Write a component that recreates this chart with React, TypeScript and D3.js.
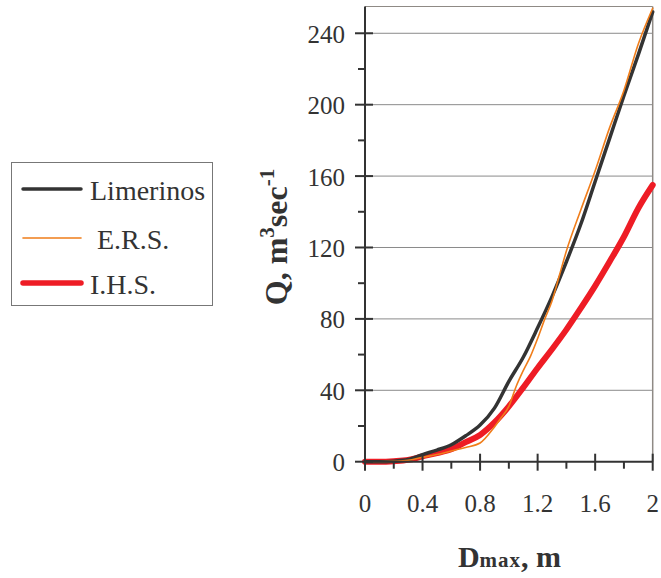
import React from "react";
import * as d3 from "d3";

// Maximum depth (m) at which discharge is evaluated
const depths = [0, 0.1, 0.2, 0.3, 0.4, 0.5, 0.6, 0.7, 0.8, 0.9, 1.0, 1.1, 1.2, 1.3, 1.4, 1.5, 1.6, 1.7, 1.8, 1.9, 2.0];

// Discharge Q (m3/s) per method
const limerinos = [0, 0, 0.3, 1.2, 4, 6.5, 9.5, 14.5, 20.5, 30, 45, 58.5, 75, 92.5, 112, 133, 157, 181, 205, 228, 252];
const ersDepths = [0, 0.1, 0.2, 0.3, 0.4, 0.5, 0.6, 0.7, 0.8, 0.9, 0.95, 1.0, 1.05, 1.1, 1.15, 1.2, 1.25, 1.3, 1.35, 1.4, 1.5, 1.6, 1.7, 1.8, 1.9, 2.0];
const ers = [0, 0, 0.2, 0.8, 2.5, 4, 6, 8, 10.5, 19.5, 25, 31, 42, 51, 59, 69, 80, 90, 104, 118, 141, 163, 187, 208, 234, 254];
const ihs = [0, 0, 0.3, 1, 3, 4.8, 7, 11, 15, 22, 31, 41.5, 52.5, 63, 74, 86, 98.5, 112, 126, 142, 155];

const xTicks = [0, 0.4, 0.8, 1.2, 1.6, 2];
const xMinorTicks = [0.2, 0.6, 1.0, 1.4, 1.8];
const yTicks = [0, 40, 80, 120, 160, 200, 240];
const yMinorTicks = [20, 60, 100, 140, 180, 220];

const legendNames = ["Limerinos", " E.R.S.", "I.H.S."];
const colors = ["#333333", "#f07d1a", "#ee1c25"];
const widths = [3.5, 1.6, 6];

const W = 661;
const H = 578;

export default function App() {
  const x = d3.scaleLinear().domain([0, 2]).range([365, 652.7]);
  const y = d3.scaleLinear().domain([0, 255]).range([461.7, 6.5]);

  const line = d3
    .line<[number, number]>()
    .x((d) => x(d[0]))
    .y((d) => y(d[1]))
    .curve(d3.curveMonotoneX);

  const series: [number, number][][] = [
    depths.map((d, i) => [d, limerinos[i]]),
    ersDepths.map((d, i) => [d, ers[i]]),
    depths.map((d, i) => [d, ihs[i]]),
  ];

  const font = "'Liberation Serif', 'Times New Roman', serif";
  const x0 = x(0);
  const x1 = x(2);
  const y0 = y(0);
  const yTop = y(255);

  return (
    <svg
      width={W}
      height={H}
      style={{ position: "absolute", left: 0, top: 0, background: "#fff" }}
      fontFamily={font}
    >
      {/* gridlines */}
      {yTicks.filter((t) => t > 0).map((t) => (
        <line key={"g" + t} x1={x0} x2={x1} y1={y(t)} y2={y(t)} stroke="#8a8a8a" strokeWidth={1} />
      ))}
      {/* frame: top and right */}
      <line x1={x0} x2={x1} y1={yTop} y2={yTop} stroke="#8f8a85" strokeWidth={1.2} />
      <line x1={x1} x2={x1} y1={yTop} y2={y0} stroke="#8f8a85" strokeWidth={1.5} />

      {/* series */}
      {[2, 0, 1].map((i) => (
        <path
          key={"s" + i}
          d={line(series[i]) || ""}
          fill="none"
          stroke={colors[i]}
          strokeWidth={widths[i]}
          strokeLinejoin="round"
          strokeLinecap="round"
        />
      ))}

      {/* axes */}
      <line x1={x0} x2={x0} y1={yTop} y2={y0} stroke="#333" strokeWidth={2} />
      <line x1={x0} x2={x1} y1={y0} y2={y0} stroke="#333" strokeWidth={2} />
      {yTicks.map((t) => (
        <line key={"yt" + t} x1={x0 - 10} x2={x0 + 8} y1={y(t)} y2={y(t)} stroke="#333" strokeWidth={2} />
      ))}
      {yMinorTicks.map((t) => (
        <line key={"ym" + t} x1={x0 - 7} x2={x0} y1={y(t)} y2={y(t)} stroke="#333" strokeWidth={2} />
      ))}
      {xTicks.map((t) => (
        <line key={"xt" + t} x1={x(t)} x2={x(t)} y1={y0 - 8} y2={y0 + 9} stroke="#333" strokeWidth={2} />
      ))}
      {xMinorTicks.map((t) => (
        <line key={"xm" + t} x1={x(t)} x2={x(t)} y1={y0} y2={y0 + 7} stroke="#333" strokeWidth={2} />
      ))}

      {/* tick labels */}
      {yTicks.map((t) => (
        <text key={"yl" + t} x={x0 - 20} y={y(t) + 9.5} textAnchor="end" fontSize={25} fill="#333">
          {t}
        </text>
      ))}
      {xTicks.map((t) => (
        <text key={"xl" + t} x={x(t)} y={512} textAnchor="middle" fontSize={25} fill="#333">
          {t}
        </text>
      ))}

      {/* axis titles */}
      <text x={509.5} y={567} textAnchor="middle" fontWeight="bold" fontSize={30} fill="#333">
        D<tspan fontSize={21} letterSpacing={1}>max</tspan>, m
      </text>
      <text
        transform="translate(287,237) rotate(-90)"
        textAnchor="middle"
        fontWeight="bold"
        fontSize={32}
        fill="#333"
      >
        Q, m<tspan fontSize={21} dy={-13}>3</tspan>
        <tspan dy={13}>sec</tspan>
        <tspan fontSize={21} dy={-13}>-1</tspan>
      </text>

      {/* legend */}
      <rect x={11.5} y={162.5} width={201} height={143} fill="#fff" stroke="#777" strokeWidth={1} />
      {legendNames.map((name, i) => {
        const ly = [189, 238, 283][i];
        return (
          <g key={"lg" + i}>
            <line x1={23} x2={81} y1={ly} y2={ly} stroke={colors[i]} strokeWidth={widths[i] === 6 ? 5.5 : widths[i]} strokeLinecap="round" />
            <text x={90} y={ly + 11} fontSize={28} fill="#333" style={{ whiteSpace: "pre" }}>
              {name}
            </text>
          </g>
        );
      })}
    </svg>
  );
}
